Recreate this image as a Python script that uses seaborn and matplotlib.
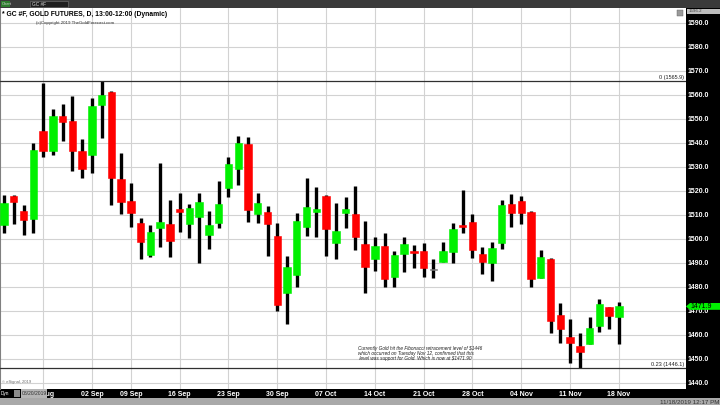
import numpy as np
import pandas as pd
import seaborn as sns
import matplotlib
matplotlib.use('Agg')
import matplotlib.pyplot as plt
import matplotlib.transforms as mtransforms
from matplotlib.patches import Rectangle, Polygon

# GC #F daily bars, 20 Aug - 18 Nov 2019
opens = [1505.8, 1517.9, 1511.8, 1508.3, 1545.0, 1536.8, 1551.4, 1549.2, 1536.5, 1534.9,
         1555.8, 1561.1, 1525.0, 1515.7, 1506.7, 1493.3, 1504.7, 1506.1, 1512.6, 1506.1,
         1509.3, 1501.7, 1506.5, 1521.3, 1529.3, 1539.5, 1510.5, 1511.3, 1501.3, 1477.6,
         1485.0, 1505.1, 1511.4, 1518.0, 1498.5, 1510.7, 1510.4, 1497.9, 1491.5, 1497.2,
         1484.3, 1493.8, 1495.1, 1495.1, 1487.1, 1490.6, 1494.7, 1505.8, 1507.0, 1493.6,
         1490.1, 1498.5, 1514.6, 1515.8, 1511.3, 1483.6, 1491.5, 1468.3, 1459.3, 1455.4,
         1456.3, 1463.8, 1471.5, 1467.4]
highs = [1518.3, 1518.3, 1514.2, 1539.9, 1564.9, 1554.2, 1556.2, 1559.6, 1541.5, 1558.6,
         1565.9, 1561.7, 1535.7, 1523.2, 1508.8, 1505.8, 1531.8, 1516.3, 1519.3, 1514.4,
         1519.0, 1511.7, 1524.0, 1534.0, 1542.9, 1542.4, 1519.0, 1513.9, 1506.5, 1492.9,
         1510.7, 1525.3, 1521.8, 1518.3, 1514.9, 1517.6, 1522.1, 1507.6, 1501.0, 1502.6,
         1495.0, 1500.7, 1497.5, 1498.5, 1491.5, 1498.9, 1506.5, 1520.4, 1510.4, 1496.5,
         1498.9, 1516.3, 1518.6, 1518.0, 1511.7, 1495.4, 1492.0, 1473.2, 1466.7, 1460.7,
         1467.4, 1475.0, 1471.5, 1473.9]
lows = [1502.6, 1506.2, 1501.7, 1502.6, 1534.3, 1534.9, 1541.0, 1528.3, 1525.3, 1527.6,
        1542.2, 1514.0, 1510.4, 1505.1, 1491.7, 1492.4, 1496.5, 1492.6, 1503.0, 1500.5,
        1490.1, 1495.8, 1504.7, 1517.6, 1522.5, 1507.0, 1506.8, 1492.9, 1470.0, 1464.6,
        1480.1, 1501.3, 1501.0, 1492.9, 1491.5, 1504.7, 1495.4, 1477.6, 1486.7, 1480.1,
        1480.1, 1486.4, 1487.8, 1484.3, 1483.6, 1490.6, 1489.9, 1502.6, 1492.0, 1485.3,
        1482.6, 1495.7, 1505.1, 1506.1, 1480.1, 1483.6, 1461.0, 1456.8, 1448.5, 1446.1,
        1456.3, 1461.1, 1462.4, 1456.3]
closes = [1515.1, 1515.3, 1507.9, 1537.1, 1536.8, 1551.4, 1548.9, 1536.7, 1529.0, 1555.5,
          1560.0, 1525.3, 1515.3, 1511.0, 1498.9, 1502.8, 1507.0, 1499.2, 1511.3, 1512.8,
          1515.4, 1505.7, 1514.6, 1531.1, 1539.9, 1512.1, 1514.9, 1506.1, 1472.5, 1488.5,
          1507.5, 1513.2, 1512.5, 1504.0, 1503.3, 1512.4, 1501.0, 1488.2, 1497.1, 1483.2,
          1493.3, 1497.9, 1494.0, 1487.8, 1487.1, 1495.1, 1504.0, 1504.9, 1495.4, 1490.3,
          1496.1, 1514.2, 1511.0, 1511.0, 1483.3, 1492.4, 1466.0, 1462.4, 1456.8, 1453.0,
          1462.8, 1472.8, 1468.0, 1471.9]

# trading days (Labor Day closed)
dates = pd.bdate_range('2019-08-20', '2019-11-18')
dates = dates[dates != pd.Timestamp('2019-09-02')]
mondays = pd.date_range('2019-08-26', '2019-11-18', freq='W-MON')
week_labels = [d.strftime('%d %b') for d in mondays]

price_ticks = [1440, 1450, 1460, 1470, 1480, 1490, 1500, 1510, 1520,
               1530, 1540, 1550, 1560, 1570, 1580, 1590]
fib_levels = [1565.9, 1446.1]
fib_labels = ['0 (1565.9)', '0.23 (1446.1)']
note = ("Currently Gold hit the Fibonacci retracement level of $1446\n"
        "which occurred on Tuesday Nov 12, confirmed that this\n"
        " level was support for Gold. Which is now at $1471.90")

sns.set_style('whitegrid', {'grid.color': '#d2d2d2'})
plt.rcParams['font.family'] = ['Liberation Sans', 'DejaVu Sans']

W, H = 720, 405
def fx(px):
    return px / W
def fy(py):
    return 1 - py / H

fig = plt.figure(figsize=(7.2, 4.05), dpi=100, facecolor='black')
ax = fig.add_axes([0, fy(388.5), fx(686), (388.5 - 8) / H])
ax.set_facecolor('white')

df = pd.DataFrame({'date': dates, 'open': opens, 'high': highs,
                   'low': lows, 'close': closes})
df['x'] = np.arange(len(df))
up = df['close'] > df['open']
flat = df['close'] == df['open']
colors = np.where(flat, '#7a7a7a', np.where(up, '#00f000', '#ff0000'))

ax.vlines(df['x'], df['low'], df['high'], color='black', linewidth=2.4, zorder=2)
body_lo = df[['open', 'close']].min(axis=1)
body_h = (df['close'] - df['open']).abs().clip(lower=0.4)
ax.bar(df['x'], body_h, bottom=body_lo, width=0.76, color=colors,
       edgecolor=colors, linewidth=0.4, zorder=3)

ax.set_xlim(-0.41, 69.88)
ax.set_ylim(1437.7, 1596.2)

# fibonacci levels
blend = mtransforms.blended_transform_factory(ax.transAxes, ax.transData)
for lvl, lab in zip(fib_levels, fib_labels):
    ax.axhline(lvl, color='#303030', linewidth=0.9, zorder=4)
    ax.text(0.997, lvl + 0.4, lab, transform=blend, ha='right', va='bottom',
            fontsize=4, color='#202020')

ax.text(358 / 686, 0.112, note, transform=ax.transAxes, fontsize=3.4,
        style='italic', va='top', ha='left', linespacing=1.05, color='#202020')
ax.text(0.003, 0.012, '\u00a9 eSignal, 2019', transform=ax.transAxes,
        fontsize=3, color='#707070', va='bottom')

# axes / ticks
ax.yaxis.tick_right()
ax.set_yticks(price_ticks)
ax.set_yticklabels([f'{v:.1f}' for v in price_ticks], fontweight='bold')
ax.tick_params(axis='y', length=0, pad=1.2, labelsize=5, labelcolor='white')
ax.set_xticks(dates.searchsorted(mondays))
ax.set_xticklabels(week_labels, fontweight='bold')
ax.tick_params(axis='x', length=0, pad=1.5, labelsize=5, labelcolor='white')
ax.grid(True, color='#d2d2d2', linewidth=0.8)
ax.set_axisbelow(True)
for s in ax.spines.values():
    s.set_visible(False)
ax.spines['left'].set_visible(True)
ax.spines['left'].set_color('#808080')

# chrome: toolbar, status bar
fig.add_artist(Rectangle((0, fy(7.5)), 1, 7.5 / H, transform=fig.transFigure,
                         fc='#3a3a3a', ec='none', zorder=5))
fig.add_artist(Rectangle((fx(0.5), fy(7)), fx(9), 6 / H, transform=fig.transFigure,
                         fc='#2d7d2d', ec='none', zorder=6))
fig.text(fx(1.5), fy(4), 'Chart', fontsize=3, color='#d0d0d0', va='center', zorder=7)
fig.add_artist(Rectangle((fx(30), fy(7)), fx(38), 6 / H, transform=fig.transFigure,
                         fc='#1e1e1e', ec='#777777', lw=0.4, zorder=6))
fig.text(fx(32), fy(4), 'GC #F', fontsize=3.4, color='#dddddd', va='center', zorder=7)
fig.add_artist(Rectangle((0, 0), 1, 7 / H, transform=fig.transFigure,
                         fc='#a9a9a9', ec='none', zorder=5))
fig.text(fx(719), fy(403), '11/18/2019 12:17 PM', fontsize=4.5, color='#303030',
         ha='right', va='center', zorder=6)

# top right
fig.add_artist(Rectangle((fx(686.5), fy(14)), fx(33.5), 5 / H, transform=fig.transFigure,
                         fc='#bdbdbd', ec='none', zorder=6))
fig.text(fx(689), fy(11.5), '1596.2', fontsize=3.2, color='#404040', va='center', zorder=7)
fig.add_artist(Rectangle((fx(677), fy(16)), fx(6), 6 / H, transform=fig.transFigure,
                         fc='#9a9a9a', ec='#606060', lw=0.3, zorder=6))

# bottom left date box (covers the first week label, as on screen)
fig.text(fx(0.8), fy(393.5), 'Dyn', fontsize=3.4, color='white', va='center', zorder=7)
fig.add_artist(Rectangle((fx(14), fy(397)), fx(6), 7 / H, transform=fig.transFigure,
                         fc='#8c8c8c', ec='none', zorder=6))
fig.add_artist(Rectangle((fx(21), fy(397.5)), fx(26), 8.5 / H, transform=fig.transFigure,
                         fc='#b5b5b5', ec='none', zorder=6))
fig.text(fx(22), fy(393.5), '08/20/2019', fontsize=3.6, color='#303030', va='center', zorder=7)

# title
fig.text(fx(2), fy(14.7), '* GC #F, GOLD FUTURES, D, 13:00-12:00 (Dynamic)',
         fontsize=4.9, fontweight='bold', va='center', color='black')
fig.text(fx(36), fy(23), '(c)Copyright 2019 TheGoldForecast.com', fontsize=3.2,
         va='center', color='#303030')

# last price tag
last = df['close'].iloc[-1]
tb = mtransforms.blended_transform_factory(fig.transFigure, ax.transData)
hh = 3.4 / 2.4
tag = Polygon([(fx(686), last), (fx(690), last + hh), (fx(720), last + hh),
               (fx(720), last - hh), (fx(690), last - hh)],
              closed=True, transform=tb, fc='#00f000', ec='none', zorder=6)
fig.add_artist(tag)
fig.text(fx(690), last, f'{last:.1f}', transform=tb, fontsize=5, color='black',
         va='center', zorder=7)

plt.savefig('out.png', dpi=100, facecolor=fig.get_facecolor())
